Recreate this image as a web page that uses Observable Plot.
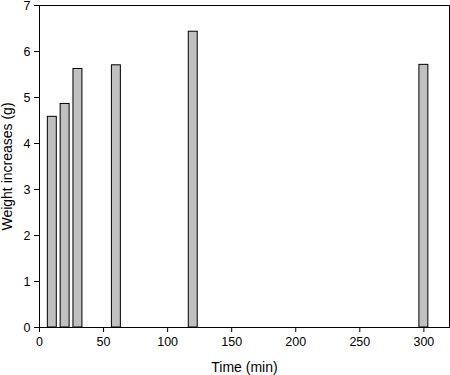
<!DOCTYPE html>
<html>
<head>
<meta charset="utf-8">
<script src="https://cdn.jsdelivr.net/npm/d3@7"></script>
<script src="https://cdn.jsdelivr.net/npm/@observablehq/plot@0.6"></script>
<style>
  html, body { margin: 0; padding: 0; background: #fff; }
  svg { display: block; }
</style>
</head>
<body>
<div id="chart"></div>
<script>
const times = [10, 20, 30, 60, 120, 300];
const weights = [4.58, 4.86, 5.62, 5.70, 6.43, 5.71];
const xTicks = [0, 50, 100, 150, 200, 250, 300];
const yTicks = [0, 1, 2, 3, 4, 5, 6, 7];
const barHalfWidth = 3.5;

const data = times.map((t, i) => ({time: t, weight: weights[i]}));

const chart = Plot.plot({
  width: 450,
  height: 375,
  marginLeft: 39,
  marginRight: 1,
  marginTop: 5,
  marginBottom: 48,
  style: {fontFamily: "'Liberation Sans', Arial, sans-serif", fontSize: "12px", color: "#000", background: "#fff"},
  x: {domain: [0, 320]},
  y: {domain: [0, 7]},
  marks: [
    Plot.rectY(data, {x1: d => d.time - barHalfWidth, x2: d => d.time + barHalfWidth, y: "weight", fill: "#c0c0c0", stroke: "#000", strokeWidth: 1}),
    Plot.frame({stroke: "#000"}),
    Plot.axisX({ticks: xTicks, tickFormat: d => d, tickSize: 5, tickPadding: 5, fontSize: 12.5, label: null}),
    Plot.axisY({ticks: yTicks, tickFormat: d => d, tickSize: 5, tickPadding: 4, fontSize: 12.5, label: null}),
    Plot.axisX({ticks: [], tickSize: 0, label: "Time (min)", labelAnchor: "center", labelArrow: "none", labelOffset: 44, fontSize: 14}),
    Plot.axisY({ticks: [], tickSize: 0, label: "Weight increases (g)", labelAnchor: "center", labelArrow: "none", labelOffset: 37, fontSize: 14})
  ]
});
document.getElementById("chart").appendChild(chart);
</script>
</body>
</html>
